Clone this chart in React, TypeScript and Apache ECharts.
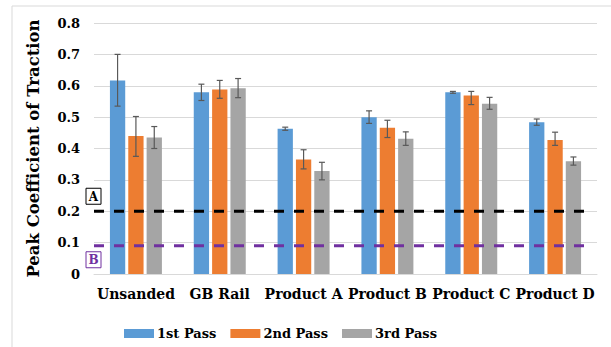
import React, { useEffect, useRef } from "react";
import * as echarts from "echarts";

const categories = ["Unsanded", "GB Rail", "Product A", "Product B", "Product C", "Product D"];
const passNames = ["1st Pass", "2nd Pass", "3rd Pass"];
const pass1 = [0.617, 0.579, 0.463, 0.5, 0.579, 0.484];
const pass2 = [0.44, 0.588, 0.365, 0.466, 0.569, 0.427];
const pass3 = [0.435, 0.592, 0.328, 0.431, 0.543, 0.359];
const pass1Low = [0.535, 0.553, 0.458, 0.48, 0.576, 0.474];
const pass1High = [0.7, 0.605, 0.468, 0.52, 0.582, 0.494];
const pass2Low = [0.375, 0.56, 0.335, 0.435, 0.54, 0.41];
const pass2High = [0.502, 0.617, 0.396, 0.49, 0.582, 0.452];
const pass3Low = [0.4, 0.562, 0.3, 0.41, 0.525, 0.347];
const pass3High = [0.47, 0.623, 0.356, 0.453, 0.563, 0.373];
const refValues = [0.2, 0.09];
const refLabels = ["A", "B"];

const colors = ["#5B9BD5", "#ED7D31", "#A5A5A5"];
const refColors = ["#000000", "#7030A0"];
const FONT = "DejaVu Serif";

export default function App() {
  const ref = useRef<HTMLDivElement>(null);
  useEffect(() => {
    if (!ref.current) return;
    const chart = echarts.init(ref.current, null, { renderer: "svg" });
    const values = [pass1, pass2, pass3];
    const lows = [pass1Low, pass2Low, pass3Low];
    const highs = [pass1High, pass2High, pass3High];
    const errData: number[][] = [];
    for (let s = 0; s < 3; s++) {
      for (let c = 0; c < categories.length; c++) {
        errData.push([c, s, lows[s][c], highs[s][c]]);
      }
    }
    const barGap = "20%";
    const barCategoryGap = "38%";
    const option: any = {
      animation: false,
      grid: { left: 94, right: 14, top: 23, bottom: 73, containLabel: false },
      xAxis: {
        type: "category",
        data: categories,
        axisLine: { show: true, lineStyle: { color: "#d9d9d9", width: 1 } },
        axisTick: { show: false },
        axisLabel: {
          color: "#000",
          fontFamily: FONT,
          fontWeight: "bold",
          fontSize: 14,
          margin: 13,
          interval: 0,
        },
      },
      yAxis: {
        type: "value",
        min: 0,
        max: 0.8,
        interval: 0.1,
        name: "Peak Coefficient of Traction",
        nameLocation: "middle",
        nameGap: 52,
        nameTextStyle: { color: "#000", fontFamily: FONT, fontWeight: "bold", fontSize: 16.5 },
        axisLine: { show: false },
        axisTick: { show: false },
        splitLine: { lineStyle: { color: "#d9d9d9", width: 1 } },
        axisLabel: {
          color: "#000",
          fontFamily: FONT,
          fontWeight: "bold",
          fontSize: 13,
          margin: 14,
          formatter: (v: number) => (v === 0 ? "0" : v.toFixed(1)),
        },
      },
      legend: {
        data: passNames,
        left: 119,
        top: 322,
        itemWidth: 30,
        itemHeight: 9,
        itemGap: 14,
        icon: "rect",
        textStyle: { color: "#000", fontFamily: FONT, fontWeight: "bold", fontSize: 13, padding: [0, 0, 0, -2] },
      },
      graphic: [
        { type: "line", shape: { x1: 12, y1: 6, x2: 611, y2: 6 }, style: { stroke: "#d9d9d9", lineWidth: 1 } },
        { type: "line", shape: { x1: 12, y1: 6, x2: 12, y2: 347 }, style: { stroke: "#d9d9d9", lineWidth: 1 } },
      ],
      series: [
        ...values.map((v, i) => ({
          type: "bar",
          name: passNames[i],
          data: v,
          barGap,
          barCategoryGap,
          itemStyle: { color: colors[i] },
          z: 2,
        })),
        {
          type: "custom",
          name: "err",
          data: errData,
          z: 5,
          renderItem: (params: any, api: any) => {
            const c = api.value(0);
            const s = api.value(1);
            const lo = api.coord([c, api.value(2)]);
            const hi = api.coord([c, api.value(3)]);
            const layout = api.barLayout({ barGap, barCategoryGap, count: 3 });
            const x = lo[0] + layout[s].offsetCenter;
            const cap = 3;
            const st = { stroke: "#595959", lineWidth: 1.2 };
            return {
              type: "group",
              children: [
                { type: "line", shape: { x1: x, y1: lo[1], x2: x, y2: hi[1] }, style: st },
                { type: "line", shape: { x1: x - cap, y1: lo[1], x2: x + cap, y2: lo[1] }, style: st },
                { type: "line", shape: { x1: x - cap, y1: hi[1], x2: x + cap, y2: hi[1] }, style: st },
              ],
            };
          },
        },
        {
          type: "custom",
          name: "ref",
          data: refValues.map((v, i) => [0, v, i]),
          z: 6,
          clip: false,
          renderItem: (params: any, api: any) => {
            const i = api.value(2);
            const y = api.coord([0, api.value(1)])[1];
            const cs = params.coordSys;
            const col = refColors[i];
            const boxY = i === 0 ? y - 23 : y + 6;
            return {
              type: "group",
              children: [
                {
                  type: "line",
                  shape: { x1: cs.x, y1: y, x2: cs.x + cs.width - 12, y2: y },
                  style: { stroke: col, lineWidth: 3, lineDash: [10, 10] },
                },
                {
                  type: "rect",
                  shape: { x: cs.x - 8, y: boxY, width: 15, height: 16 },
                  style: { fill: "#fff", stroke: col, lineWidth: 1 },
                },
                {
                  type: "text",
                  style: {
                    x: cs.x - 0.5,
                    y: boxY + 8.5,
                    text: refLabels[i],
                    fill: col,
                    font: `bold 12px "${FONT}"`,
                    align: "center",
                    verticalAlign: "middle",
                  },
                },
              ],
            };
          },
        },
      ],
    };
    chart.setOption(option);
    return () => chart.dispose();
  }, []);
  return (
    <div
      ref={ref}
      style={{ position: "fixed", left: 0, top: 0, width: 611, height: 347, background: "#fff" }}
    />
  );
}
